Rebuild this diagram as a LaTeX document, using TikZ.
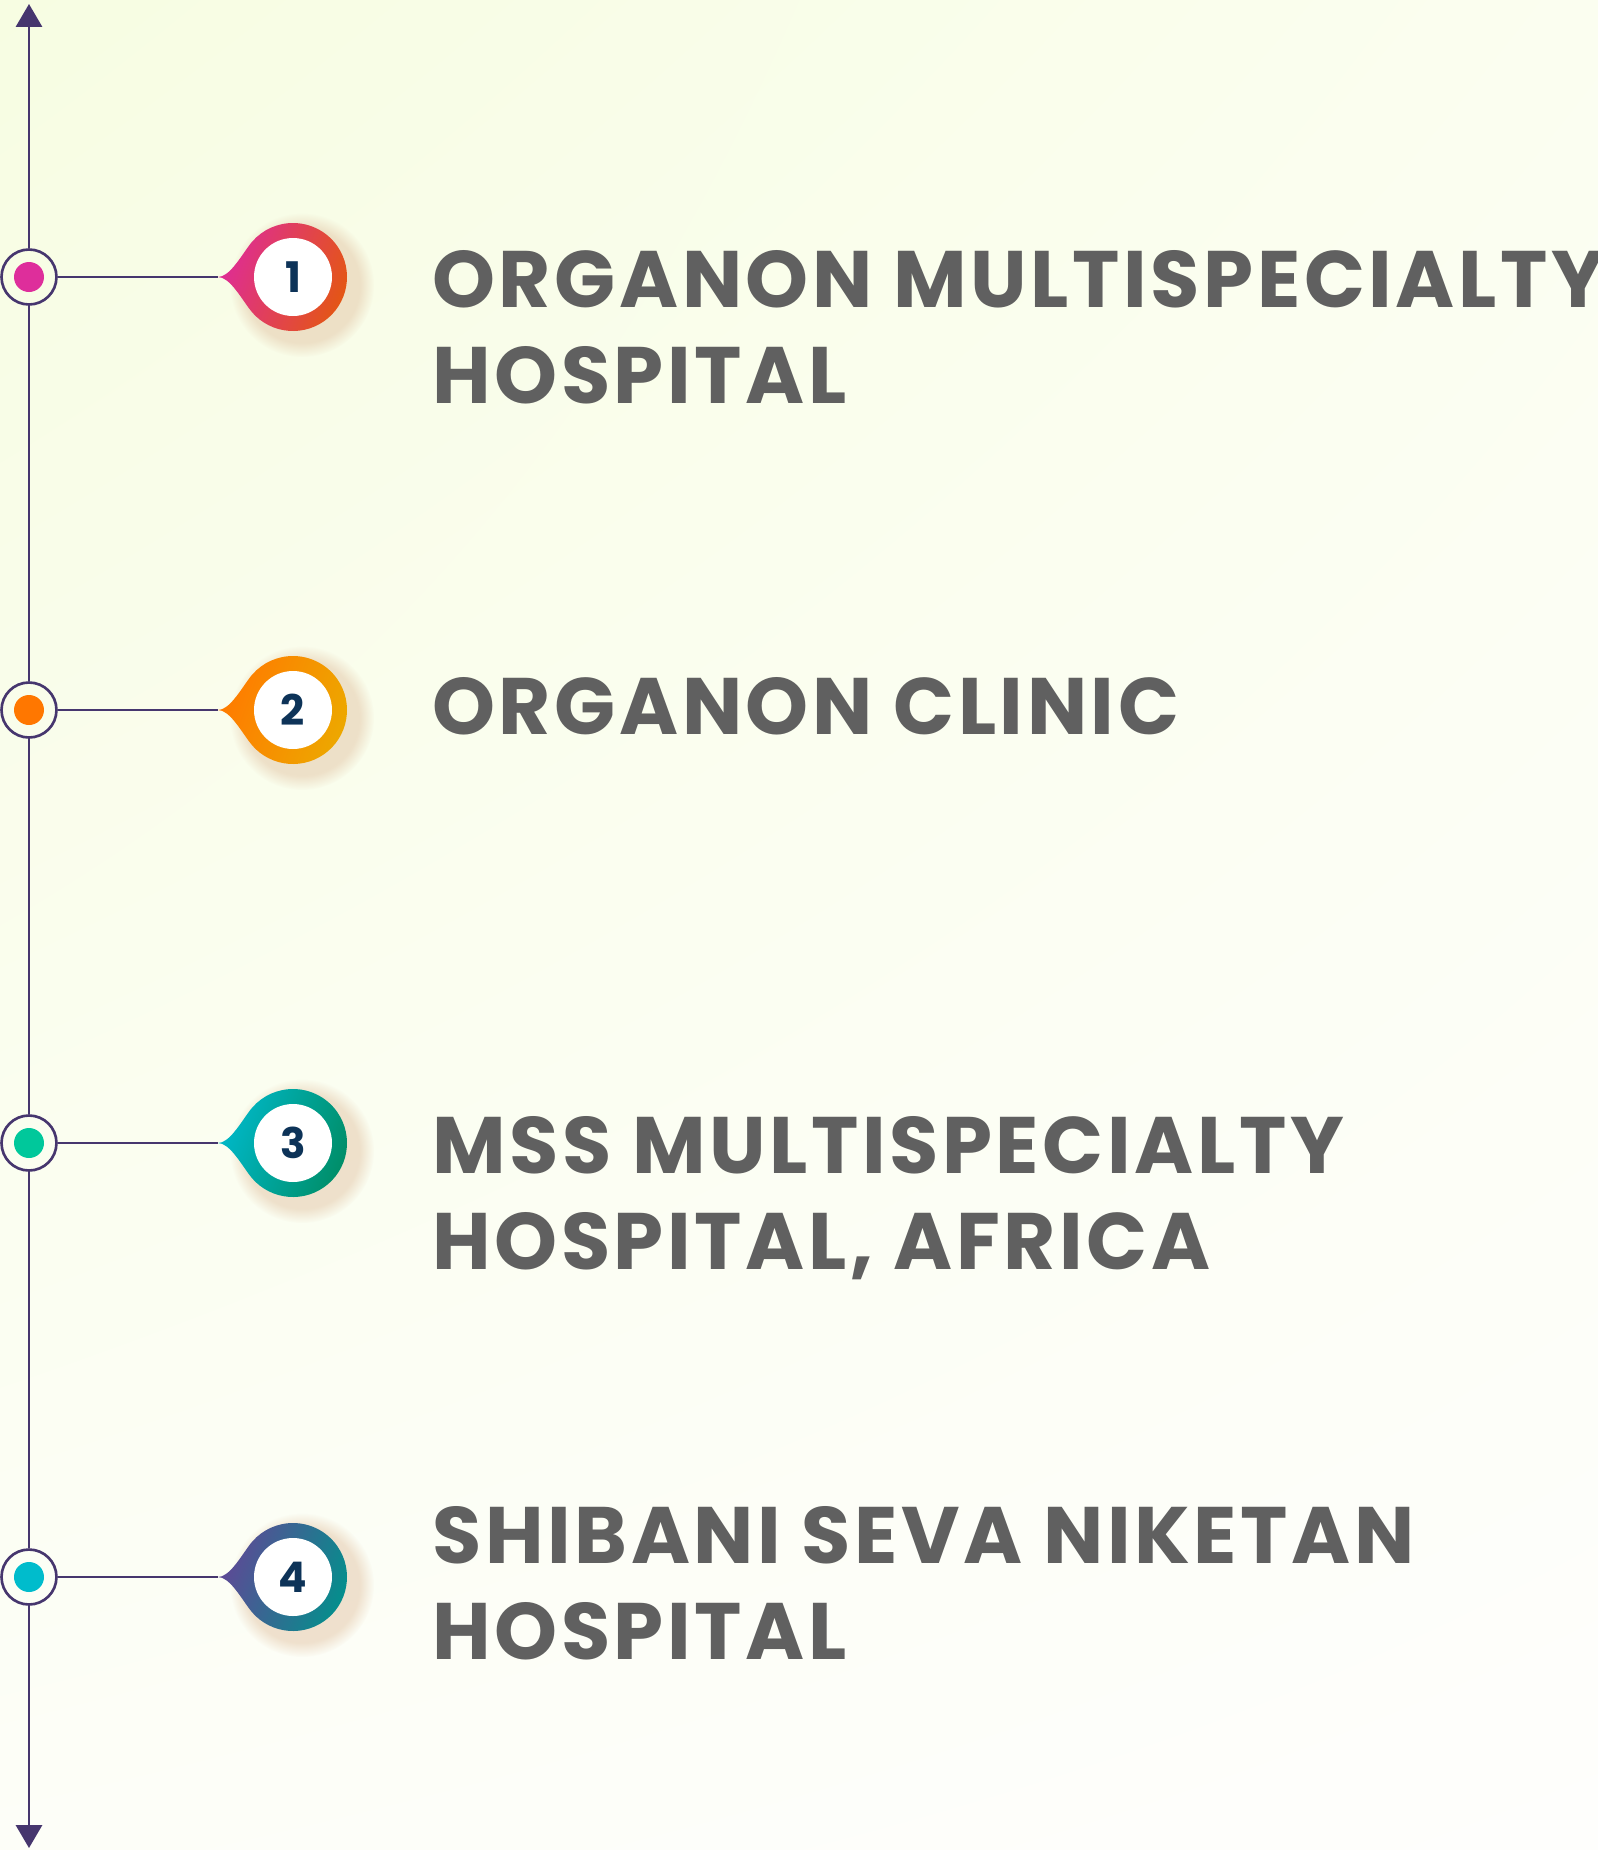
\documentclass[tikz,border=0pt]{standalone}
\usepackage{fontspec}
\setmainfont{Poppins}
\newfontfamily\labelfont{Poppins}[LetterSpace=4.5]
\usetikzlibrary{arrows.meta,fadings,shadings}

\definecolor{axisline}{RGB}{70,54,110}
\definecolor{labeltext}{RGB}{96,96,96}
\definecolor{numtext}{RGB}{13,51,88}
\definecolor{bgA}{RGB}{247,253,226}
\definecolor{bgB}{RGB}{251,254,240}
\definecolor{bgC}{RGB}{253,254,248}
\definecolor{bgD}{RGB}{254,254,252}
\definecolor{shadowtone}{RGB}{226,196,165}
\definecolor{dot1}{RGB}{222,46,155}
\definecolor{dot2}{RGB}{255,119,0}
\definecolor{dot3}{RGB}{0,200,155}
\definecolor{dot4}{RGB}{0,188,204}
\definecolor{pinL1}{RGB}{222,44,150}
\definecolor{pinR1}{RGB}{228,88,14}
\definecolor{pinL2}{RGB}{255,122,0}
\definecolor{pinR2}{RGB}{236,170,0}
\definecolor{pinL3}{RGB}{0,184,200}
\definecolor{pinR3}{RGB}{0,140,100}
\definecolor{pinL4}{RGB}{95,72,150}
\definecolor{pinR4}{RGB}{0,146,140}

\begin{document}
\begin{tikzpicture}[x=0.02cm, y=-0.02cm,
    axis/.style={draw=axisline, line width=1.5pt},
    ring/.style={circle, draw=axisline, line width=1.5pt, inner sep=0pt, minimum size=1.1cm},
    numdisc/.style={circle, fill=white, inner sep=0pt, minimum size=1.56cm,
        text=numtext, font=\fontsize{24}{24}\selectfont\bfseries},
    label/.style={anchor=base west, align=left, inner sep=0pt, text=labeltext,
        font=\labelfont\fontsize{45.6}{54.6}\selectfont\bfseries}]
    \useasboundingbox (0,0) rectangle (1598,1850);
    \clip (0,0) rectangle (1598,1850);
    \shade[upper left=bgA, upper right=bgB, lower left=bgC, lower right=bgD] (0,0) rectangle (1598,1850);

    % pins
    \foreach \y/\n in {277/1, 710/2, 1143/3, 1577/4} {
        \fill[shadowtone, opacity=0.5, path fading=circle with fuzzy edge 20 percent] (302,\y+8) circle (72);
        \shade[shift={(293,\y)}, left color=pinL\n, right color=pinR\n, shading angle=70]
            (-75,0) .. controls (-64,0) and (-53,19) .. (145:54)
            arc[start angle=145, end angle=-145, radius=54]
            .. controls (-53,-19) and (-64,0) .. cycle;
        \node[numdisc] (p\n) at (293,\y) {\n};
        \coordinate (tip\n) at (218,\y);
        \node[ring] (m\n) at (29,\y) {};
        \fill[dot\n] (m\n) circle (15);
        \draw[axis] (m\n) -- (tip\n);
    }

    \coordinate (top) at (29,4);
    \coordinate (bot) at (29,1848);
    \draw[axis, {Triangle[width=14.8pt, length=13pt]}-] (top) -- (m1);
    \draw[axis] (m1) -- (m2);
    \draw[axis] (m2) -- (m3);
    \draw[axis] (m3) -- (m4);
    \draw[axis, -{Triangle[width=14.8pt, length=13pt]}] (m4) -- (bot);

    % base anchor sits on the last line
    \node[label] (t1) at (432,403) {ORGANON MULTISPECIALTY\\HOSPITAL};
    \node[label] (t2) at (432,734) {ORGANON CLINIC};
    \node[label] (t3) at (432,1269) {MSS MULTISPECIALTY\\HOSPITAL, AFRICA};
    \node[label] (t4) at (432,1659) {SHIBANI SEVA NIKETAN\\HOSPITAL};
\end{tikzpicture}
\end{document}
